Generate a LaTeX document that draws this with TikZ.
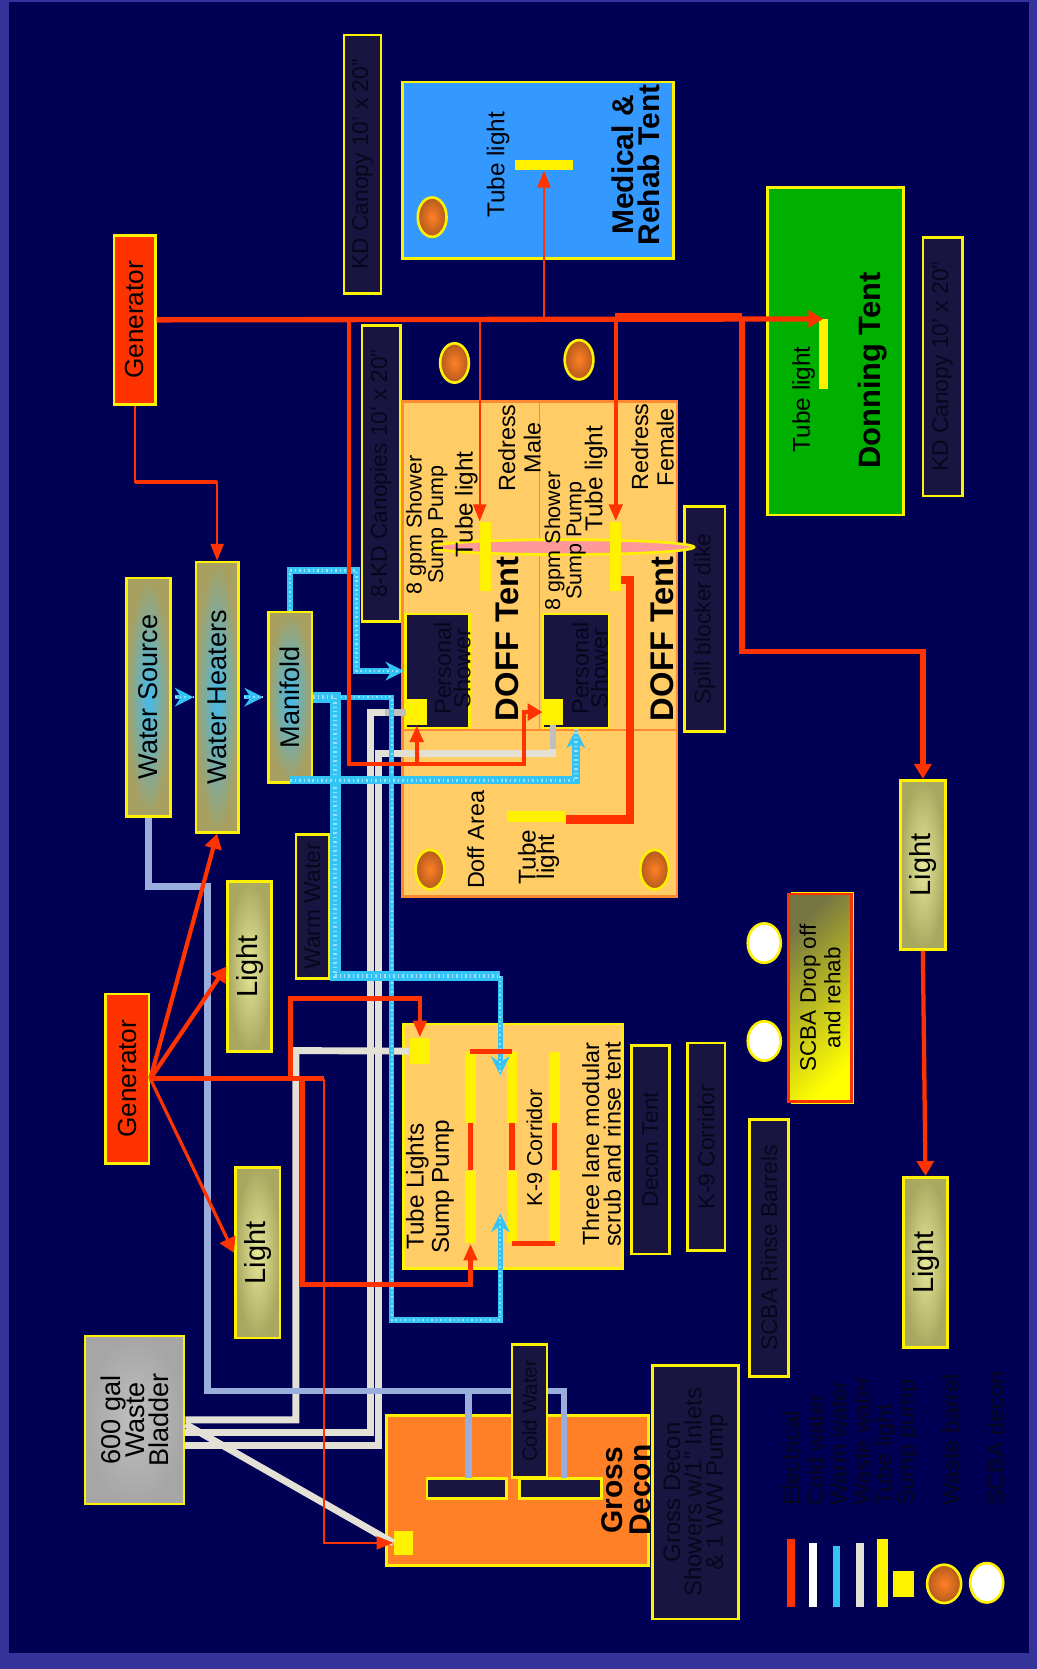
\documentclass[tikz,border=0pt]{standalone}
\usepackage{fontspec}
\setmainfont{Liberation Sans}
\usetikzlibrary{arrows.meta,shapes.geometric}

\definecolor{frame}{HTML}{333399}
\definecolor{navy}{HTML}{000055}
\definecolor{darkbox}{HTML}{191540}
\definecolor{darktext}{HTML}{08061C}
\definecolor{elec}{HTML}{FF3300}
\definecolor{coldw}{HTML}{99AEDD}
\definecolor{warmw}{HTML}{33C4F5}
\definecolor{wastew}{HTML}{E3E0D6}
\definecolor{tent}{HTML}{FFCC66}
\definecolor{tentedge}{HTML}{FF8833}
\definecolor{grossfill}{HTML}{FF8026}
\definecolor{medfill}{HTML}{3399FF}
\definecolor{donfill}{HTML}{00B000}
\definecolor{pink}{HTML}{FF9999}
\definecolor{lampedge}{HTML}{A8A860}
\definecolor{lampmid}{HTML}{E8E89A}
\definecolor{watermid}{HTML}{44BBEE}
\definecolor{wateredge}{HTML}{A8A060}

\tikzset{
  sz/.style 2 args={minimum width=#1*0.02cm,minimum height=#2*0.02cm},
  fs/.style 2 args={font=\fontsize{#1}{#2}\selectfont},
  fsb/.style 2 args={font=\fontsize{#1}{#2}\selectfont\bfseries},
  box/.style={draw=yellow,line width=1.4pt,rotate=90,inner sep=0pt,align=center,text=black},
  note/.style={box,fill=darkbox,text=darktext,fs={12.2}{11.4}},
  wbox/.style={box,shade,inner color=watermid,outer color=wateredge,fs={14.5}{16}},
  lbox/.style={box,shade,inner color=lampmid,outer color=lampedge,fs={15.5}{16}},
  lab/.style={rotate=90,inner sep=0pt,align=center,text=black},
  tube/.style={rotate=90,inner sep=0pt,fill=yellow},
  barrel/.style={ellipse,draw=yellow,line width=1.4pt,inner sep=0pt,minimum width=27*0.02cm,minimum height=37*0.02cm,shade,inner color=grossfill,outer color=grossfill!70!black},
  ball/.style={ellipse,draw=yellow,line width=1.4pt,inner sep=0pt,minimum width=31*0.02cm,minimum height=37*0.02cm,fill=white},
  legtext/.style={rotate=90,inner sep=0pt,anchor=west,text=darktext,fs={12.5}{12}},
  legline/.style={rotate=90,inner sep=0pt},
  wire/.style={draw=elec,line width=#1*0.02cm},
  tipa/.style={-{Triangle[length=9pt,width=7pt]}},
  tipb/.style={-{Triangle[length=8pt,width=9pt]}},
  cold/.style={draw=coldw,line width=6*0.02cm},
  waste/.style={draw=wastew,line width=6.5*0.02cm},
  warm/.style={draw=warmw,line width=#1*0.02cm,postaction={draw=warmw!50!white,arrows=-,line width=#1*0.008cm,dash pattern=on 0.8pt off 1.6pt}},
  warmtip/.style={-{Stealth[length=10pt,width=10pt]}}
}

\begin{document}
\begin{tikzpicture}[x=0.02cm,y=-0.02cm]

  \useasboundingbox (0,0) rectangle (974,1568);
  \fill[frame] (0,0) rectangle (974,1568);
  \fill[navy] (8,2) rectangle (967,1553);

  \node[note,sz={243}{35}] (cnp1) at (340.5,154.5) {KD Canopy 10' x 20"};
  \node[note,sz={243}{37}] (cnp2) at (885.5,344.5) {KD Canopy 10' x 20"};
  \node[note,sz={278}{36}] (cnp3) at (358,445) {8-KD Canopies 10' x 20"};
  \node[note,sz={211}{38}] (dike) at (662,581.5) {Spill blocker dike};
  \node[note,sz={135}{31}] (wwb) at (293.5,851.5) {Warm Water};
  \node[note,sz={196}{36}] (dcb) at (611,1080) {Decon Tent};
  \node[note,sz={195}{35}] (k9b) at (663.5,1077.5) {K-9 Corridor};
  \node[note,sz={241}{37}] (rnb) at (722.5,1172.5) {SCBA Rinse Barrels};
  \node[note,sz={238}{81},fs={12.8}{11.4}] (gdb) at (653.5,1402) {Gross Decon\\Showers w/1" Inlets\\\& 1 WW Pump};

  \node[box,sz={166}{255},fill=medfill] (med) at (505.5,160) {};
  \node[box,sz={308}{128},fill=donfill] (don) at (785,330) {};
  \node[box,sz={465}{258},draw=tentedge,fill=tent] (doff) at (507,609.5) {};
  \node[box,sz={230}{206},fill=tent] (dcn) at (482,1077) {};
  \node[box,sz={141}{246},fill=grossfill] (grs) at (486,1400.5) {};

  \draw[tentedge,line width=0.8pt] (doff.north |- 508,686) -- (doff.south |- 508,686);
  \draw[tentedge,line width=0.8pt] (doff.east) -- (doff.east |- 508,686);

  \node[ellipse,draw=yellow,line width=1.4pt,fill=pink,inner sep=0pt,minimum width=247*0.02cm,minimum height=14*0.02cm] (spl) at (528.5,514) {};

  \node[box,sz={159}{39},fill=elec,fs={14}{14}] (gen1) at (126.5,300.5) {Generator};
  \node[box,sz={159}{41},fill=elec,fs={14}{14}] (gen2) at (119.5,1013.5) {Generator};
  \node[wbox,sz={224}{41}] (wsrc) at (139.5,655) {Water Source};
  \node[wbox,sz={254}{40}] (htr) at (204,655) {Water Heaters};
  \node[wbox,sz={160}{41}] (man) at (272.5,655) {Manifold};
  \node[lbox,sz={159}{42}] (lit1) at (867,812.5) {Light};
  \node[lbox,sz={160}{41}] (lit2) at (869.5,1186) {Light};
  \node[lbox,sz={160}{41}] (lit3) at (234.5,908) {Light};
  \node[lbox,sz={160}{42}] (lit4) at (242,1177) {Light};
  \node[box,sz={158}{93},shade,inner color=gray!50,outer color=gray!70,fs={14.5}{13}] (blad) at (126.5,1334) {600 gal\\Waste\\Bladder};
  \fill[yellow] (743,838) rectangle (802,1037);
  \node[box,sz={195}{59},draw=elec,shade,left color=lampedge!70!black,right color=yellow,shading angle=45,fs={12}{13}] (drp) at (770.5,937.5) {SCBA Drop off\\and rehab};

  \node[box,sz={107}{60},fill=darkbox] (psh1) at (411,630.5) {};
  \node[box,sz={107}{62},fill=darkbox] (psh2) at (541,630.5) {};
  \node[box,sz={19}{75},fill=darkbox] (shw1) at (438.5,1398.5) {};
  \node[box,sz={19}{77},fill=darkbox] (shw2) at (526.5,1398.5) {};

  \node[tube,sz={10}{54}] (tbm) at (511,155) {};
  \node[tube,sz={65}{9}] (tbd) at (773.5,332.5) {};
  \node[tube,sz={65}{10}] (tb1) at (456,522.5) {};
  \node[tube,sz={65}{10}] (tb2) at (578.5,522.5) {};
  \node[tube,sz={10}{55}] (tb3) at (503.5,767) {};
  \node[tube,sz={67}{10}] (t1a) at (442,1021.5) {};
  \node[tube,sz={68}{10}] (t1b) at (442,1134) {};
  \node[tube,sz={67}{10}] (t2a) at (481,1021.5) {};
  \node[tube,sz={68}{10}] (t2b) at (481,1134) {};
  \node[tube,sz={67}{10}] (t3a) at (521,1021.5) {};
  \node[tube,sz={68}{10}] (t3b) at (521,1134) {};

  \node[tube,sz={24}{19}] (pmp1) at (391.5,669) {};
  \node[tube,sz={24}{19}] (pmp2) at (519.5,669) {};
  \node[tube,sz={25}{19}] (pmp4) at (394.5,987.5) {};
  \node[tube,sz={23}{18}] (pmp3) at (379,1449.5) {};

  \node[barrel] (brl1) at (406,204) {};
  \node[barrel] (brl2) at (427,341) {};
  \node[barrel] (brl3) at (544,338) {};
  \node[barrel] (brl4) at (404,817) {};
  \node[barrel] (brl5) at (615,817) {};
  \node[ball] (wht1) at (718,886) {};
  \node[ball] (wht2) at (718,978) {};

  \coordinate (ar1) at (470,1140);
  \coordinate (ar2) at (470,1010);
  \coordinate (c2) at (583,545);
  \coordinate (cw1) at (440,1389);
  \coordinate (cw2) at (530,1389);

  \draw[waste] (blad.south) -- (278,1334) -- (278,987) -- (pmp4.north);
  \draw[waste] (blad.south |- 0,1346) -- (348,1346) -- (348,669) -- (pmp1.north);
  \draw[waste] (blad.south |- 0,1358) -- (355.5,1358) -- (355.5,708) -| (pmp2.west);
  \draw[waste] (blad.south |- 0,1338) -- (pmp3.north);
  \draw[draw=gray!50,line width=6.5*0.02cm] (362,669) -- (pmp1.north);
  \draw[draw=gray!50,line width=6.5*0.02cm] (pmp2.west |- 0,704) -- (pmp2.west);

  \draw[cold] (wsrc.west) |- (195,833) -- (195,1307) -| (cw2);
  \draw[cold] (cw1 |- 0,1307) -- (cw1);

  \draw[warm=5,warmtip] (man.south) -- (368,655) -- (368,1240) -| (ar1);
  \draw[warm=10] (man.south) -- (315,655) -- (315,917) -- (470,917);
  \draw[warm=5,warmtip] (470,917) -- (ar2);
  \draw[warm=8,warmtip] (man.west |- 0,733) -| (psh2.west);
  \draw[warm=6,warmtip] (man.east) |- (335,536) |- (psh1.north);
  \draw[warm=4,warmtip,shorten <=2pt,shorten >=0.5pt] (wsrc.south) -- (htr.north);
  \draw[warm=4,warmtip,shorten <=2.5pt,shorten >=2pt] (htr.south) -- (man.north);

  \node[note,sz={125}{33},fs={11}{12}] (cwb) at (497.5,1325.5) {Cold Water};

  \draw[wire=5,tipb] (gen1.south) -- (tbd.east);
  \draw[wire=6] (578,297) -- (697,297);
  \draw[wire=2,tipa] (tbm.west |- gen1.south) -- (tbm.west);
  \draw[wire=2,tipa] (tb1.north east |- gen1.south) -- (tb1.north east);
  \draw[wire=4,tipa] (tb2.east |- gen1.south) -- (tb2.east);
  \draw[wire=8] (c2) -- (592,545) -- (592,770) -- (tb3.south |- 592,770);
  \draw[wire=4,tipb] (328,300) -- (328,718) -- (492,718) |- (pmp2.north);
  \draw[wire=4,tipa] (pmp1.west |- 492,718) -- (pmp1.west);
  \draw[wire=5,tipb] (697,300) -- (697,612) -| (lit1.east);
  \draw[wire=4,tipb] (lit1.west) -- (lit2.east);

  \draw[wire=2,tipa] (gen1.west) |- (204,453) -- (htr.east);
  \draw[wire=4] (126.5,453) -- (204,453);

  \draw[wire=4,tipb] (gen2.south) -- (htr.west);
  \draw[wire=4,tipb] (gen2.south) -- (lit3.north);
  \draw[wire=3,tipb] (gen2.south) -- (lit4.north);
  \draw[wire=5] (gen2.south) -- (304,1013.5);
  \draw[wire=2,tipa] (304,1013.5) -- (304,1449.5) -- (pmp3.north);
  \draw[wire=5,tipa] (284,1013.5) -- (284,1207) -| (t1b.west);
  \draw[wire=4,tipa] (273,1013.5) -- (273,938) -| (pmp4.east);

  \draw[wire=5] (t1a.west) -- (t1b.east);
  \draw[wire=5] (t2a.west) -- (t2b.east);
  \draw[wire=5] (t3a.west) -- (t3b.east);
  \draw[wire=5] (t1a.east) -- (t2a.east);
  \draw[wire=5] (t2b.west) -- (t3b.west);

  \node[lab,fs={13}{14}] (tx1) at (468,155) {Tube light};
  \node[lab,fsb={16}{14}] (tx2) at (597,155) {Medical \&\\Rehab Tent};
  \node[lab,fs={13}{14}] (tx3) at (755,375) {Tube light};
  \node[lab,fsb={16.5}{18}] (tx4) at (820,348) {Donning Tent};
  \node[lab,fs={11.5}{11.4}] (tx5) at (401,493) {8 gpm Shower\\Sump Pump};
  \node[lab,fs={13}{14}] (tx6) at (438,474) {Tube light};
  \node[lab,fs={12.5}{13.6}] (tx7) at (488,421) {Redress\\Male};
  \node[lab,fs={11.5}{11.4}] (tx8) at (531,508) {8 gpm Shower\\Sump Pump};
  \node[lab,fs={13}{14}] (tx9) at (560,450) {Tube light};
  \node[lab,fs={12.5}{13.6}] (tx10) at (613,420) {Redress\\Female};
  \node[lab,fsb={17.5}{18}] (tx11) at (477,600) {DOFF Tent};
  \node[lab,fsb={17.5}{18}] (tx12) at (622,600) {DOFF Tent};
  \node[lab,text=darktext,fs={12.5}{8}] (tx13) at (425,628) {Personal\\Shower};
  \node[lab,text=darktext,fs={12.5}{8}] (tx14) at (554,628) {Personal\\Shower};
  \node[lab,fs={12.5}{13}] (tx15) at (447,789) {Doff Area};
  \node[lab,fs={13}{10}] (tx16) at (506,805) {Tube\\light};
  \node[lab,fs={13}{13.5}] (tx17) at (404,1115) {Tube Lights\\Sump Pump};
  \node[lab,fs={11.5}{12}] (tx18) at (502,1078) {K-9 Corridor};
  \node[lab,fs={12.5}{11.5}] (tx19) at (565,1075) {Three lane modular\\scrub and rinse tent};
  \node[lab,fsb={16}{15}] (tx20) at (588,1400) {Gross\\Decon};

  \node[legline,sz={64}{7},fill=elec] (leg1) at (743,1478) {};
  \node[legline,sz={60}{7},fill=white] (leg2) at (764,1480) {};
  \node[legline,sz={58}{7},fill=warmw] (leg3) at (786,1481) {};
  \node[legline,sz={60}{8},fill=wastew] (leg4) at (808,1480) {};
  \node[legline,sz={64}{10},fill=yellow] (leg5) at (829,1478) {};
  \node[legline,sz={24}{20},fill=yellow] (leg6) at (849,1488) {};
  \node[barrel,minimum width=32*0.02cm,minimum height=36*0.02cm] (leg7) at (887,1488) {};
  \node[ball] (leg8) at (927,1487) {};

  \node[legtext] (ltx1) at (743,1415) {Electrical};
  \node[legtext] (ltx2) at (766,1415) {Cold water};
  \node[legtext] (ltx3) at (788,1415) {Warm water};
  \node[legtext] (ltx4) at (810,1415) {Waste water};
  \node[legtext] (ltx5) at (832,1415) {Tube light};
  \node[legtext] (ltx6) at (853,1415) {Sump pump};
  \node[legtext] (ltx7) at (893,1415) {Waste barrel};
  \node[legtext] (ltx8) at (935,1415) {SCBA decon};

\end{tikzpicture}
\end{document}
